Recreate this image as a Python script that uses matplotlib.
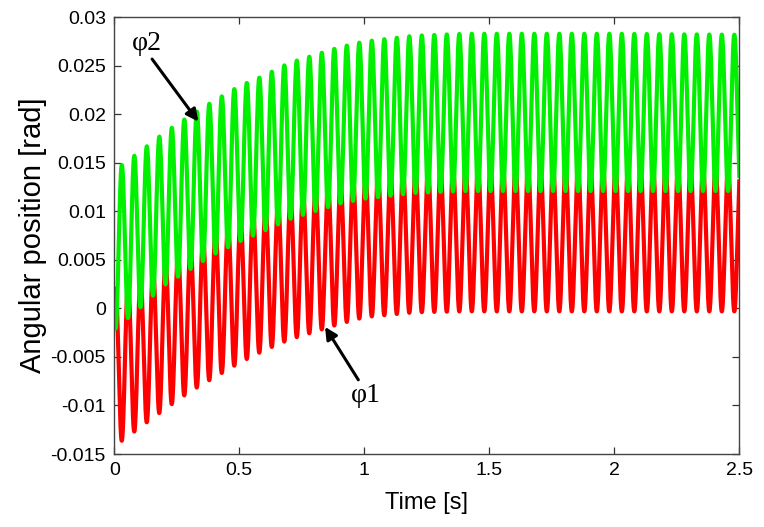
import matplotlib
matplotlib.use("Agg")
import matplotlib.pyplot as plt
import numpy as np
from matplotlib.ticker import FormatStrFormatter

plt.rcParams["font.family"] = ["Liberation Sans", "DejaVu Sans"]
plt.rcParams["axes.unicode_minus"] = False

# envelope values (time in s, angle in rad)
env_t = [0.0, 0.1, 0.2, 0.3, 0.4, 0.5, 0.6, 0.7, 0.8, 0.9, 1.0, 1.2, 1.4, 2.0, 2.5]
phi2_upper = [0.0142, 0.0161, 0.0181, 0.0198, 0.0214, 0.0229, 0.0240, 0.0253,
              0.0261, 0.0269, 0.0275, 0.0281, 0.0283, 0.0283, 0.0282]
phi2_lower = [-0.0022, 0.0000, 0.0024, 0.0040, 0.0056, 0.0069, 0.0080, 0.0092,
              0.0100, 0.0108, 0.0113, 0.0119, 0.0121, 0.0121, 0.0121]
phi1_upper = [0.0020, 0.0028, 0.0048, 0.0063, 0.0079, 0.0092, 0.0103, 0.0114,
              0.0122, 0.0130, 0.0136, 0.0142, 0.0145, 0.0145, 0.0145]
phi1_lower = [-0.0142, -0.0123, -0.0104, -0.0086, -0.0071, -0.0056, -0.0043, -0.0032,
              -0.0024, -0.0016, -0.0009, -0.0004, -0.0003, -0.0003, -0.0003]

# oscillation: 50 cycles in 2.5 s, phi2 peaks at 0.03 s
osc_freq_hz = 20.0
first_peak_s = 0.030

x_ticks = [0, 0.5, 1, 1.5, 2, 2.5]
y_ticks = [-0.015, -0.01, -0.005, 0, 0.005, 0.01, 0.015, 0.02, 0.025, 0.03]


def _signal(t, upper, lower, sign):
    up = np.interp(t, env_t, upper)
    lo = np.interp(t, env_t, lower)
    mid = 0.5 * (up + lo)
    amp = 0.5 * (up - lo)
    return mid + sign * amp * np.cos(2 * np.pi * osc_freq_hz * (t - first_peak_s))


def main():
    t = np.linspace(0, 2.5, 6000)
    phi1 = _signal(t, phi1_upper, phi1_lower, -1)
    phi2 = _signal(t, phi2_upper, phi2_lower, 1)

    fig = plt.figure(figsize=(7.64, 5.27), dpi=100)
    ax = fig.add_axes([0.1496, 0.1385, 0.8181, 0.8287])
    ax.plot(t, phi1, color="#ff0000", lw=3.0, solid_joinstyle="round")
    ax.plot(t, phi2, color="#00f000", lw=3.0, solid_joinstyle="round")

    ax.set_xlim(0, 2.5)
    ax.set_ylim(-0.015, 0.03)
    ax.set_xticks(x_ticks)
    ax.set_yticks(y_ticks)
    ax.xaxis.set_major_formatter(FormatStrFormatter("%g"))
    ax.yaxis.set_major_formatter(FormatStrFormatter("%g"))
    ax.tick_params(direction="in", length=5, width=0.9, color="#333333",
                   labelsize=14, top=True, right=True, pad=6)
    for sp in ax.spines.values():
        sp.set_color("#444444")
        sp.set_linewidth(1.0)

    ax.set_xlabel("Time [s]", fontsize=17)
    ax.set_ylabel("Angular position [rad]", fontsize=21)
    ax.xaxis.set_label_coords(0.5, -0.088)
    ax.yaxis.set_label_coords(-0.107, 0.5)

    arrow = dict(arrowstyle="-|>", lw=2.2, color="k", mutation_scale=18,
                 shrinkA=0, shrinkB=0)
    ax.annotate("φ2", xy=(0.336, 0.01925), xytext=(0.131, 0.0266),
                fontsize=20, family="Liberation Serif", ha="center", va="baseline",
                arrowprops=dict(arrow, relpos=(0.6, 0.0)))
    ax.annotate("φ1", xy=(0.843, -0.0019), xytext=(1.007, -0.0096),
                fontsize=20, family="Liberation Serif", ha="center", va="baseline",
                arrowprops=dict(arrow, relpos=(0.3, 1.0)))

    fig.savefig("out.png", dpi=100, facecolor="white")
    plt.close(fig)


if __name__ == "__main__":
    main()
